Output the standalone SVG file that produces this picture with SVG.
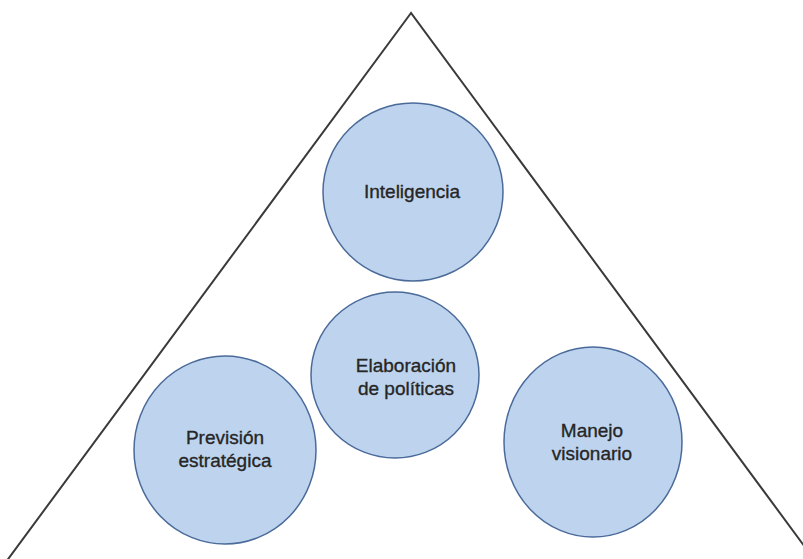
<svg xmlns="http://www.w3.org/2000/svg" width="803" height="559" viewBox="0 0 803 559">
  <style>
    .tri { fill: none; stroke: #3a3a3a; stroke-width: 2; }
    .bubble { fill: #bed4ee; stroke: #4a6a9a; stroke-width: 1.5; }
    .label { font-family: "Liberation Sans", Arial, sans-serif; font-size: 19px; fill: #262626; stroke: #262626; stroke-width: 0.35; text-anchor: middle; }
  </style>
  <rect width="803" height="559" fill="#ffffff"/>
  <g id="connectors">
    <polygon class="tri" points="411,13 3,566 819,566"/>
  </g>
  <g id="inteligencia">
    <ellipse class="bubble" cx="413" cy="192" rx="90" ry="89"/>
    <text class="label" x="412" y="198">Inteligencia</text>
  </g>
  <g id="elaboracion">
    <ellipse class="bubble" cx="395" cy="375" rx="84" ry="83"/>
    <text class="label" x="406" y="372">Elaboración</text>
    <text class="label" x="406" y="395">de políticas</text>
  </g>
  <g id="prevision">
    <ellipse class="bubble" cx="225" cy="450" rx="91" ry="94"/>
    <text class="label" x="225" y="444">Previsión</text>
    <text class="label" x="225" y="467">estratégica</text>
  </g>
  <g id="manejo">
    <ellipse class="bubble" cx="593" cy="442" rx="89" ry="95"/>
    <text class="label" x="592" y="437">Manejo</text>
    <text class="label" x="592" y="460">visionario</text>
  </g>
</svg>
